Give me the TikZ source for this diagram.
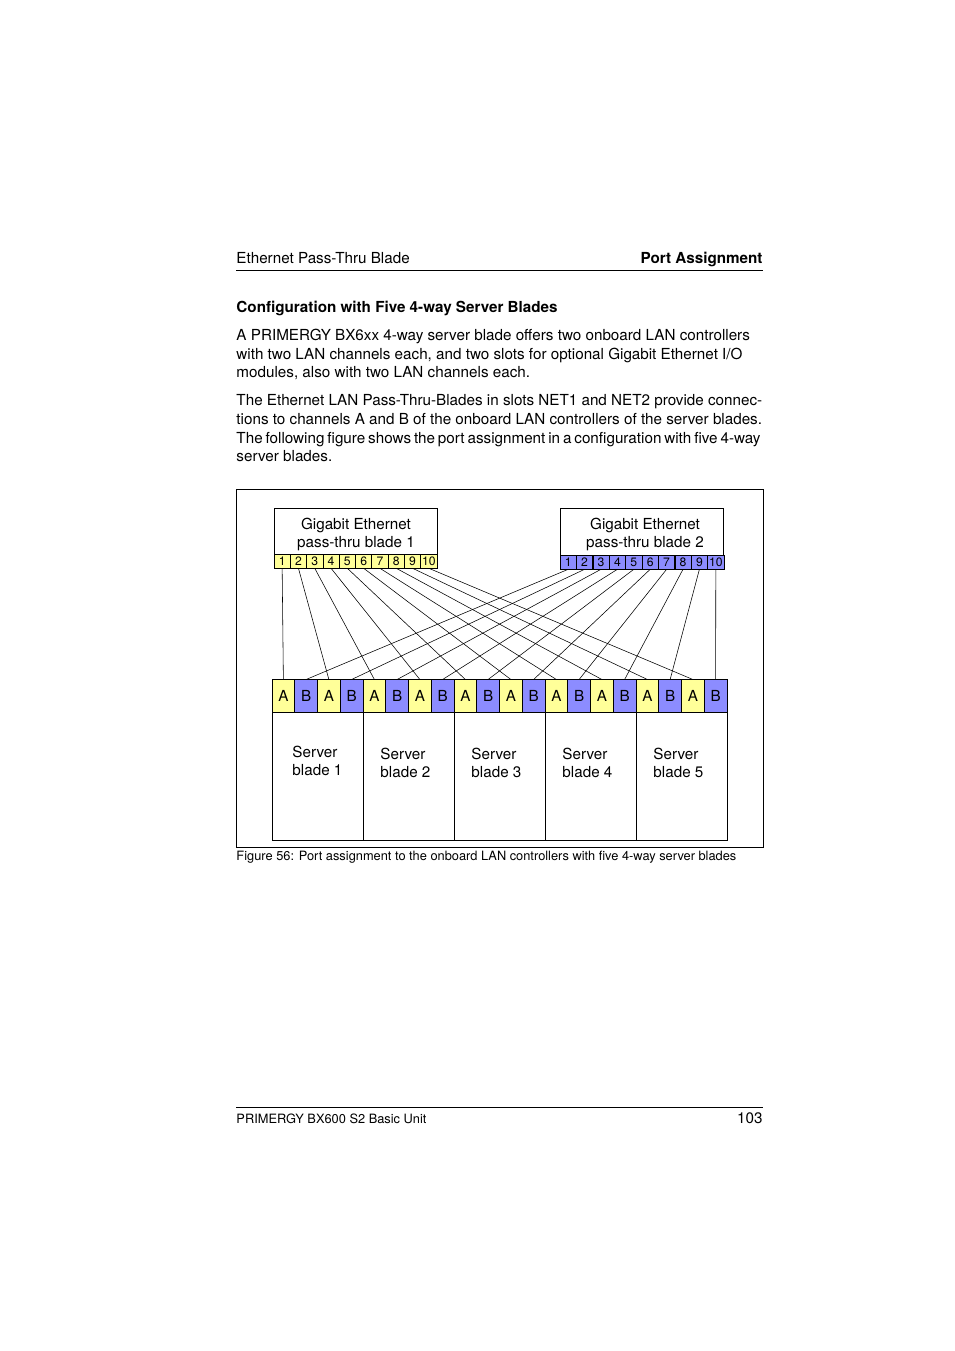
\documentclass[tikz,border=0pt]{standalone}
\usepackage{fontspec}
\setmainfont{TeX Gyre Heros}
\usetikzlibrary{positioning}
\definecolor{portyellow}{HTML}{FFFF99}
\definecolor{portblue}{HTML}{8C8CFF}

\begin{document}
\begin{tikzpicture}[x=0.624pt, y=-0.624pt, line width=0.6pt,
  every node/.style={inner sep=0pt},
  bodytext/.style={anchor=base west, font=\fontsize{9.5}{11.5}\selectfont},
  bladebox/.style={draw, minimum width=101.7pt, minimum height=37.4pt},
  port/.style={draw, line width=0.4pt, minimum width=10.17pt, minimum height=8.7pt,
               font=\fontsize{7.6}{7.6}\selectfont},
  chan/.style={draw, minimum width=14.2pt, minimum height=20pt,
               font=\fontsize{9.5}{11}\selectfont},
  serverbox/.style={draw, minimum width=56.8pt, minimum height=79.9pt},
  label/.style={align=left, font=\fontsize{9.5}{11}\selectfont},
  wire/.style={line width=0.35pt}]

% Page
\fill[white] (0,0) rectangle (954,1351);
\useasboundingbox (0,0) rectangle (954,1351);

% Header
\node[bodytext] (head) at (236,264) {Ethernet Pass-Thru Blade};
\node[bodytext, anchor=base east, font=\fontsize{9.5}{11.5}\selectfont\bfseries] (chapter) at (763,264) {Port Assignment};
\draw (236,270) -- (763,270);

% Section title and text
\node[bodytext, font=\fontsize{9.5}{11.5}\selectfont\bfseries] (title) at (236,313) {Configuration with Five 4-way Server Blades};
\node[bodytext] (l1) at (236,341) {A PRIMERGY BX6xx 4-way server blade offers two onboard LAN controllers};
\node[bodytext] (l2) at (236,359.5) {with two LAN channels each, and two slots for optional Gigabit Ethernet I/O};
\node[bodytext] (l3) at (236,378) {modules, also with two LAN channels each.};
\node[bodytext] (l4) at (236,406) {The Ethernet LAN Pass-Thru-Blades in slots NET1 and NET2 provide connec-};
\node[bodytext] (l5) at (236,424.5) {tions to channels A and B of the onboard LAN controllers of the server blades.};
\node[bodytext] (l6) at (236,443) {\hbox to 327pt{\spaceskip=1.9pt plus 1pt minus 0.5pt The following figure shows the port assignment in a configuration with five 4-way}};
\node[bodytext] (l7) at (236,461.5) {server blades.};

% Figure frame
\draw (236,489) rectangle (763,847);

% Pass-thru blades
\node[bladebox] (net1) at (355.5,538) {};
\node[bladebox] (net2) at (642,538.5) {};
\node[label, align=center, anchor=north] (net1txt) at (356,518) {Gigabit Ethernet\\pass-thru blade 1};
\node[label, align=center, anchor=north] (net2txt) at (645,518) {Gigabit Ethernet\\pass-thru blade 2};
\foreach \i in {1,...,10} {
  \node[port, fill=portyellow] (a\i) at ({274+16.3*(\i-0.5)},561) {\i};
  \node[port, fill=portblue] (b\i) at ({560+16.4*(\i-0.5)},562) {\i};
}

% LAN channels
\foreach \i in {1,...,20} {
  \ifodd\i
    \node[chan, fill=portyellow] (ch\i) at ({272+22.75*(\i-0.5)},696) {A};
  \else
    \node[chan, fill=portblue] (ch\i) at ({272+22.75*(\i-0.5)},696) {B};
  \fi
}

% Server blades
\foreach \s in {1,...,5}
  \node[serverbox] (srv\s) at ({272+91*(\s-0.5)},776) {};
\node[label, anchor=north west] (srv1txt) at (292,746) {Server\\blade 1};
\node[label, anchor=north west] (srv2txt) at (380,748) {Server\\blade 2};
\node[label, anchor=north west] (srv3txt) at (471,748) {Server\\blade 3};
\node[label, anchor=north west] (srv4txt) at (562,748) {Server\\blade 4};
\node[label, anchor=north west] (srv5txt) at (653,748) {Server\\blade 5};

% Wiring: NET1 -> channel A, NET2 -> channel B
\foreach \k in {1,...,10} {
  \pgfmathtruncatemacro\ca{2*\k-1}
  \pgfmathtruncatemacro\cb{2*\k}
  \draw[wire] (a\k.south) -- (ch\ca.north);
  \draw[wire] (b\k.south) -- (ch\cb.north);
}

% Caption
\node[bodytext, font=\fontsize{8}{9}\selectfont] (caption) at (236,860) {Figure 56: Port assignment to the onboard LAN controllers with five 4-way server blades};

% Footer
\draw (236,1107) -- (763,1107);
\node[bodytext, font=\fontsize{8}{9}\selectfont] (foot) at (236,1123) {PRIMERGY BX600 S2 Basic Unit};
\node[bodytext, anchor=base east] (page) at (763,1123) {103};

\end{tikzpicture}
\end{document}
